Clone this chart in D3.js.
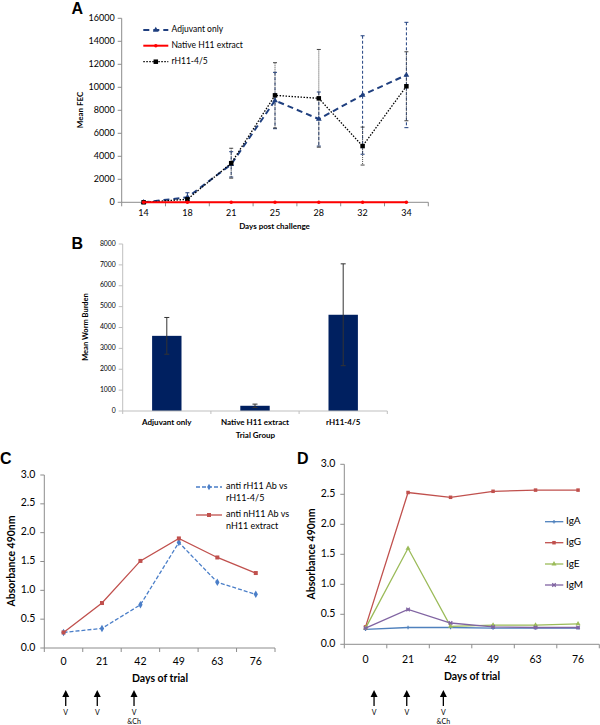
<!DOCTYPE html>
<html><head><meta charset="utf-8">
<script src="https://cdn.jsdelivr.net/npm/d3@7"></script>
<style>body{margin:0;background:#fff}svg{display:block}text{font-family:Lato,'Open Sans',sans-serif;fill:#000}</style>
</head><body><svg id="c" width="600" height="725"></svg>
<script>
// ---------- DATA ----------
// Panel A
const daysA = ["14","18","21","25","28","32","34"];
const adjuvantFEC = [0, 430, 3300, 8850, 7240, 9330, 11070];
const adjuvantErr = [0, 400, 1100, 2450, 2350, 5150, 4580];
const nativeFEC = [0, 0, 0, 0, 0, 0, 0];
const rH11FEC = [0, 260, 3400, 9300, 9040, 4890, 10090];
const rH11Err = [0, 100, 1300, 2840, 4250, 1650, 3000];
const ticksA = [0, 2000, 4000, 6000, 8000, 10000, 12000, 14000, 16000];
const legendA = ["Adjuvant only", "Native H11 extract", "rH11-4/5"];
// Panel B
const groupsB = ["Adjuvant only", "Native H11 extract", "rH11-4/5"];
const wormBurden = [3600, 250, 4610];
const wormErr = [880, 80, 2440];
const ticksB = [0, 1000, 2000, 3000, 4000, 5000, 6000, 7000, 8000];
// Panel C
const daysTrial = ["0","21","42","49","63","76"];
const antiRH11 = [0.27, 0.34, 0.75, 1.83, 1.14, 0.93];
const antiNH11 = [0.27, 0.78, 1.51, 1.90, 1.57, 1.30];
const ticksAbs = [0, 0.5, 1.0, 1.5, 2.0, 2.5, 3.0];
// Panel D
const igA = [0.25, 0.28, 0.28, 0.27, 0.27, 0.27];
const igG = [0.29, 2.53, 2.45, 2.55, 2.57, 2.57];
const igE = [0.27, 1.60, 0.30, 0.32, 0.32, 0.34];
const igM = [0.27, 0.58, 0.355, 0.29, 0.28, 0.28];
// vaccination annotations
const vaccDays = ["0","21","42"];
const vaccLabels = [["V"],["V"],["V","&Ch"]];

// ---------- HELPERS ----------
const svg = d3.select("#c");
const AXC = "#8c8c8c";

function bandAxis(g, x, y0, tickLen, labelY, fs, color, bold){
  const [a,b] = x.range();
  g.append("line").attr("x1",a).attr("x2",b).attr("y1",y0).attr("y2",y0).attr("stroke",color);
  const bounds = x.domain().map(d=>x(d)).concat([b]);
  g.selectAll(null).data(bounds).join("line")
    .attr("x1",d=>d).attr("x2",d=>d).attr("y1",y0).attr("y2",y0+tickLen).attr("stroke",color);
  g.selectAll(null).data(x.domain()).join("text")
    .attr("x",d=>x(d)+x.bandwidth()/2).attr("y",labelY).attr("text-anchor","middle")
    .attr("dominant-baseline","middle").attr("font-size",fs).attr("font-weight",bold?"bold":"normal").text(d=>d);
}
function valueAxis(g, y, x0, ticks, fmt, fs, color, gap){
  const [r0,r1] = y.range();
  g.append("line").attr("x1",x0).attr("x2",x0).attr("y1",r0).attr("y2",r1).attr("stroke",color);
  g.selectAll(null).data(ticks).join("line")
    .attr("x1",x0-4).attr("x2",x0).attr("y1",d=>y(d)).attr("y2",d=>y(d)).attr("stroke",color);
  g.selectAll(null).data(ticks).join("text")
    .attr("x",x0-gap).attr("y",d=>y(d)).attr("text-anchor","end").attr("dominant-baseline","middle")
    .attr("font-size",fs).text(fmt);
}
function marker(g, type, cx, cy, color, s){
  if(type==="square") g.append("rect").attr("x",cx-s/2).attr("y",cy-s/2).attr("width",s).attr("height",s).attr("fill",color);
  else if(type==="triangle") g.append("path").attr("d",d3.symbol(d3.symbolTriangle, s*s*0.9)()).attr("transform",`translate(${cx},${cy})`).attr("fill",color);
  else if(type==="circle") g.append("circle").attr("cx",cx).attr("cy",cy).attr("r",s/2).attr("fill",color);
  else if(type==="diamond") g.append("path").attr("d",d3.symbol(d3.symbolDiamond, s*s*0.8)()).attr("transform",`translate(${cx},${cy})`).attr("fill",color);
  else if(type==="plus") g.append("path").attr("d",`M${cx-s/2},${cy}H${cx+s/2}M${cx},${cy-s/2}V${cy+s/2}`).attr("stroke",color).attr("stroke-width",1.2);
  else if(type==="star") g.append("path").attr("d",`M${cx-s/2},${cy-s/2}L${cx+s/2},${cy+s/2}M${cx-s/2},${cy+s/2}L${cx+s/2},${cy-s/2}M${cx-s/2},${cy}H${cx+s/2}`).attr("stroke",color).attr("stroke-width",1.2);
}
function series(g, x, y, cats, vals, color, width, dash, mk, ms){
  const pts = cats.map((c,i)=>[x(c)+x.bandwidth()/2, y(vals[i])]);
  g.append("path").attr("d",d3.line()(pts)).attr("fill","none").attr("stroke",color)
    .attr("stroke-width",width).attr("stroke-dasharray",dash||null);
  pts.forEach(p=>marker(g,mk,p[0],p[1],color,ms));
}
function errBars(g, x, y, cats, vals, errs, color, dash, cap){
  cats.forEach((c,i)=>{
    if(!errs[i]) return;
    const cx = x(c)+x.bandwidth()/2, t = y(vals[i]+errs[i]), b = y(vals[i]-errs[i]);
    g.append("line").attr("x1",cx).attr("x2",cx).attr("y1",t).attr("y2",b).attr("stroke",color).attr("stroke-width",1).attr("stroke-dasharray",dash||null);
    [t,b].forEach(v=>g.append("line").attr("x1",cx-cap).attr("x2",cx+cap).attr("y1",v).attr("y2",v).attr("stroke",color).attr("stroke-width",1));
  });
}
function panelLetter(t,x,y){
  svg.append("text").attr("x",x).attr("y",y).attr("font-size",16).attr("font-weight","bold")
    .style("font-family","'Liberation Sans',Arial,sans-serif").text(t);
}

// ---------- PANEL A ----------
{
  const g = svg.append("g");
  const x = d3.scaleBand().domain(daysA).range([121.7, 428.3]);
  const y = d3.scaleLinear().domain([0,16000]).range([202.3, 18.3]);
  valueAxis(g, y, 121.7, ticksA, d=>d, 9, AXC, 7);
  bandAxis(g, x, 202.3, 4, 214, 9, AXC, false);
  const navy = "#1F3F7F";
  errBars(g, x, y, daysA, adjuvantFEC, adjuvantErr, navy, "3,2", 2);
  errBars(g, x, y, daysA, rH11FEC, rH11Err, "#444", "1,1", 2);
  series(g, x, y, daysA, adjuvantFEC, navy, 2, "6,4", "triangle", 4);
  series(g, x, y, daysA, rH11FEC, "#000", 1.3, "1.5,1.5", "square", 4.5);
  series(g, x, y, daysA, nativeFEC, "#FF0000", 2, null, "circle", 3.5);
  // legend
  const ly = [30, 45.7, 61.7];
  const sty = [[navy,2,"6,4","triangle",4],["#FF0000",2,null,"circle",3.5],["#000",1.3,"1.5,1.5","square",4.5]];
  legendA.forEach((t,i)=>{
    const [c,w,d,m,s] = sty[i];
    g.append("line").attr("x1",143.3).attr("x2",168.3).attr("y1",ly[i]).attr("y2",ly[i]).attr("stroke",c).attr("stroke-width",w).attr("stroke-dasharray",d);
    marker(g,m,155.8,ly[i],c,s);
    g.append("text").attr("x",171.5).attr("y",ly[i]).attr("dominant-baseline","middle").attr("font-size",8.5).text(t);
  });
  g.append("text").attr("x",274.5).attr("y",227).attr("text-anchor","middle").attr("dominant-baseline","middle")
    .attr("font-size",8).attr("font-weight","bold").text("Days post challenge");
  g.append("text").attr("transform","translate(80.5,110) rotate(-90)").attr("text-anchor","middle").attr("dominant-baseline","middle")
    .attr("font-size",8).attr("font-weight","bold").text("Mean FEC");
  panelLetter("A",71.5,14);
}

// ---------- PANEL B ----------
{
  const g = svg.append("g");
  const x = d3.scaleBand().domain(groupsB).range([122.7, 387.3]);
  const y = d3.scaleLinear().domain([0,8000]).range([411, 244]);
  const BC = "#bfbfbf";
  valueAxis(g, y, 122.7, ticksB, d=>d, 6.8, BC, 7);
  const bw = x.bandwidth()/3;
  g.selectAll(null).data(groupsB).join("rect")
    .attr("x",d=>x(d)+x.bandwidth()/2-bw/2).attr("width",bw)
    .attr("y",(d,i)=>y(wormBurden[i])).attr("height",(d,i)=>y(0)-y(wormBurden[i])).attr("fill","#002060");
  bandAxis(g, x, 411, 3, 423, 8, BC, true);
  errBars(g, x, y, groupsB, wormBurden, wormErr, "#333", null, 2.5);
  g.append("text").attr("x",255.5).attr("y",435.5).attr("text-anchor","middle").attr("dominant-baseline","middle")
    .attr("font-size",8).attr("font-weight","bold").text("Trial Group");
  g.append("text").attr("transform","translate(86,327) rotate(-90)").attr("text-anchor","middle").attr("dominant-baseline","middle")
    .attr("font-size",7.5).attr("font-weight","bold").text("Mean Worm Burden");
  panelLetter("B",71.5,249);
}

// ---------- PANEL C & D shared ----------
function arrows(g, x, offs){
  vaccDays.forEach((d,i)=>{
    const cx = x(d)+x.bandwidth()/2+offs[i];
    g.append("line").attr("x1",cx).attr("x2",cx).attr("y1",695).attr("y2",706).attr("stroke","#000").attr("stroke-width",1.3);
    g.append("path").attr("d",`M${cx-3.5},${697}L${cx},${690}L${cx+3.5},${697}Z`).attr("fill","#000");
    vaccLabels[i].forEach((t,j)=>g.append("text").attr("x",cx).attr("y",713+j*9).attr("text-anchor","middle")
      .attr("dominant-baseline","middle").attr("font-size",7).text(t));
  });
}
const fmt1 = d3.format(".1f");

// ---------- PANEL C ----------
{
  const g = svg.append("g");
  const x = d3.scaleBand().domain(daysTrial).range([44.3, 275]);
  const y = d3.scaleLinear().domain([0,3]).range([648, 475]);
  valueAxis(g, y, 44.3, ticksAbs, fmt1, 10.5, AXC, 9);
  bandAxis(g, x, 648, 4, 662, 10.5, AXC, false);
  const blue = "#4A7EC8", red = "#C0504D";
  series(g, x, y, daysTrial, antiRH11, blue, 1.3, "4,2", "diamond", 4.5);
  series(g, x, y, daysTrial, antiNH11, red, 1.3, null, "square", 4);
  const leg = [[blue,"4,2","diamond",["anti rH11 Ab vs","rH11-4/5"],487],[red,null,"square",["anti nH11 Ab vs","nH11 extract"],515]];
  leg.forEach(([c,d,m,ts,ly])=>{
    g.append("line").attr("x1",196).attr("x2",222).attr("y1",ly).attr("y2",ly).attr("stroke",c).attr("stroke-width",1.3).attr("stroke-dasharray",d);
    marker(g,m,209,ly,c,4);
    ts.forEach((t,j)=>g.append("text").attr("x",226).attr("y",ly+j*11.5).attr("dominant-baseline","middle").attr("font-size",9).text(t));
  });
  g.append("text").attr("x",160).attr("y",679).attr("text-anchor","middle").attr("dominant-baseline","middle")
    .attr("font-size",10.5).attr("font-weight","bold").text("Days of trial");
  g.append("text").attr("transform","translate(12.5,561) rotate(-90)").attr("text-anchor","middle").attr("dominant-baseline","middle")
    .attr("font-size",10.5).attr("font-weight","bold").text("Absorbance 490nm");
  panelLetter("C",0,464);
  arrows(g, x, [2.2,-4.7,-6.4]);
}

// ---------- PANEL D ----------
{
  const g = svg.append("g");
  const x = d3.scaleBand().domain(daysTrial).range([344.3, 599.3]);
  const y = d3.scaleLinear().domain([0,3]).range([644.3, 464.3]);
  valueAxis(g, y, 344.3, ticksAbs, fmt1, 10.5, AXC, 9);
  bandAxis(g, x, 644.3, 4, 660, 10.5, AXC, false);
  const cols = {IgA:"#4F81BD", IgG:"#C0504D", IgE:"#9BBB59", IgM:"#8064A2"};
  const sets = [["IgA",igA,"plus"],["IgG",igG,"square"],["IgE",igE,"triangle"],["IgM",igM,"star"]];
  sets.forEach(([n,v,m])=>series(g, x, y, daysTrial, v, cols[n], 1.3, null, m, 3.5));
  const ly = [521.7, 542.7, 564, 585];
  sets.forEach(([n,v,m],i)=>{
    g.append("line").attr("x1",545).attr("x2",563.3).attr("y1",ly[i]).attr("y2",ly[i]).attr("stroke",cols[n]).attr("stroke-width",1.3);
    marker(g,m,554,ly[i],cols[n],3.5);
    g.append("text").attr("x",566).attr("y",ly[i]).attr("dominant-baseline","middle").attr("font-size",10).text(n);
  });
  g.append("text").attr("x",472).attr("y",677).attr("text-anchor","middle").attr("dominant-baseline","middle")
    .attr("font-size",10.5).attr("font-weight","bold").text("Days of trial");
  g.append("text").attr("transform","translate(312,554) rotate(-90)").attr("text-anchor","middle").attr("dominant-baseline","middle")
    .attr("font-size",10.5).attr("font-weight","bold").text("Absorbance 490nm");
  panelLetter("D",297,464);
  arrows(g, x, [8.5,-1.3,-7.2]);
}
</script></body></html>
